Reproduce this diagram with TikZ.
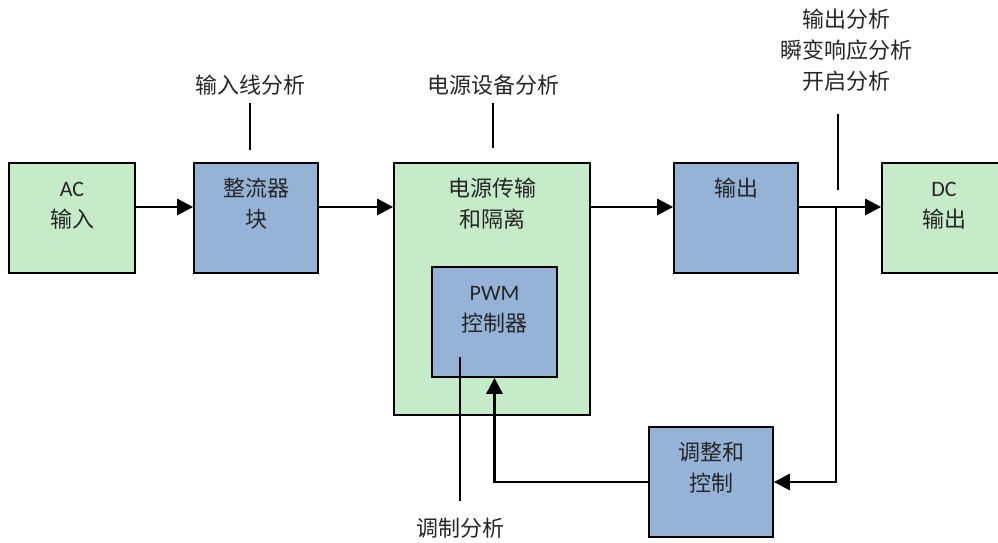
\documentclass[tikz,border=0pt]{standalone}
\usepackage{fontspec}
\setmainfont{Carlito}
\newfontfamily\cjk{Noto Sans CJK SC}
\usetikzlibrary{arrows.meta, positioning, calc}
\definecolor{boxgreen}{HTML}{C6EBC9}
\definecolor{boxblue}{HTML}{95B3D7}
\tikzset{
  blk/.style={rectangle, draw, line width=1.3pt, inner sep=0pt,
              minimum width=93pt, minimum height=82.5pt},
  src/.style={blk, fill=boxgreen},
  stage/.style={blk, fill=boxblue},
  ttl/.style={anchor=north, inner sep=0pt, yshift=-9.4pt, align=center,
              text=black!85, font=\fontsize{16.5}{23}\selectfont},
  ann/.style={align=center, text=black!85, font=\cjk\fontsize{16.5}{23}\selectfont},
  arr/.style={-{Triangle[length=12pt, width=12pt]}, line width=2.2pt},
  probe/.style={line width=1.1pt},
}
\newcommand{\zh}[1]{{\cjk #1}}

\begin{document}
\begin{tikzpicture}[x=0.75pt, y=-0.75pt]
  \useasboundingbox (0,0) rectangle (998,542);
  \def\AY{8.25pt}
  \node[src, minimum width=94.5pt, label={[ttl]north:{\strut AC\\\zh{输入}}}] (acin) at (72,218) {};
  \node[stage, label={[ttl]north:{\strut\zh{整流器}\\\zh{块}}}] (rect) at (256,218) {};
  \node[src, minimum width=147pt, minimum height=189pt,
        label={[ttl]north:{\strut\zh{电源传输}\\\zh{和隔离}}}] (pwr) at (492,289) {};
  \node[stage, minimum width=93.75pt, label={[ttl]north:{\strut PWM\\\zh{控制器}}}] (pwm) at (494.5,322) {};
  \node[stage, label={[ttl]north:{\strut\zh{输出}}}] (outb) at (736,218) {};
  \node[src, label={[ttl]north:{\strut DC\\\zh{输出}}}] (dcout) at (944,218) {};
  \node[stage, label={[ttl]north:{\strut\zh{调整和}\\\zh{控制}}}] (reg) at (711,482) {};

  \node[ann] (lin) at (250,85) {输入线分析};
  \node[ann] (psa) at (493,85) {电源设备分析};
  \node[ann] (oan) at (846,50) {输出分析\\瞬变响应分析\\开启分析};
  \node[ann] (mod) at (460,528) {调制分析};

  \coordinate (lin-end) at (250,150);
  \coordinate (psa-end) at (493,148);
  \coordinate (oan-end) at (838,190);
  \coordinate (mod-end) at (460,357);
  \coordinate (tap) at (836,207);

  \draw[arr] ([yshift=\AY]acin.east) -- ([yshift=\AY]rect.west);
  \draw[arr] ([yshift=\AY]rect.east) -- ([yshift=\AY]rect.east -| pwr.west);
  \draw[arr] ([yshift=\AY]outb.west -| pwr.east) -- ([yshift=\AY]outb.west);
  \draw[arr] (tap) |- (reg.east);
  \draw[arr] ([yshift=\AY]outb.east) -- ([yshift=\AY]dcout.west);
  \draw[arr] (reg.west) -| (pwm.south);

  \draw[probe, shorten <=2pt] (lin) -- (lin-end);
  \draw[probe, shorten <=2pt] (psa) -- (psa-end);
  \draw[probe, shorten <=14pt] (oan.south -| oan-end) -- (oan-end);
  \draw[probe, shorten >=9.4pt] (mod-end) -- (mod.north -| mod-end);
\end{tikzpicture}
\end{document}
